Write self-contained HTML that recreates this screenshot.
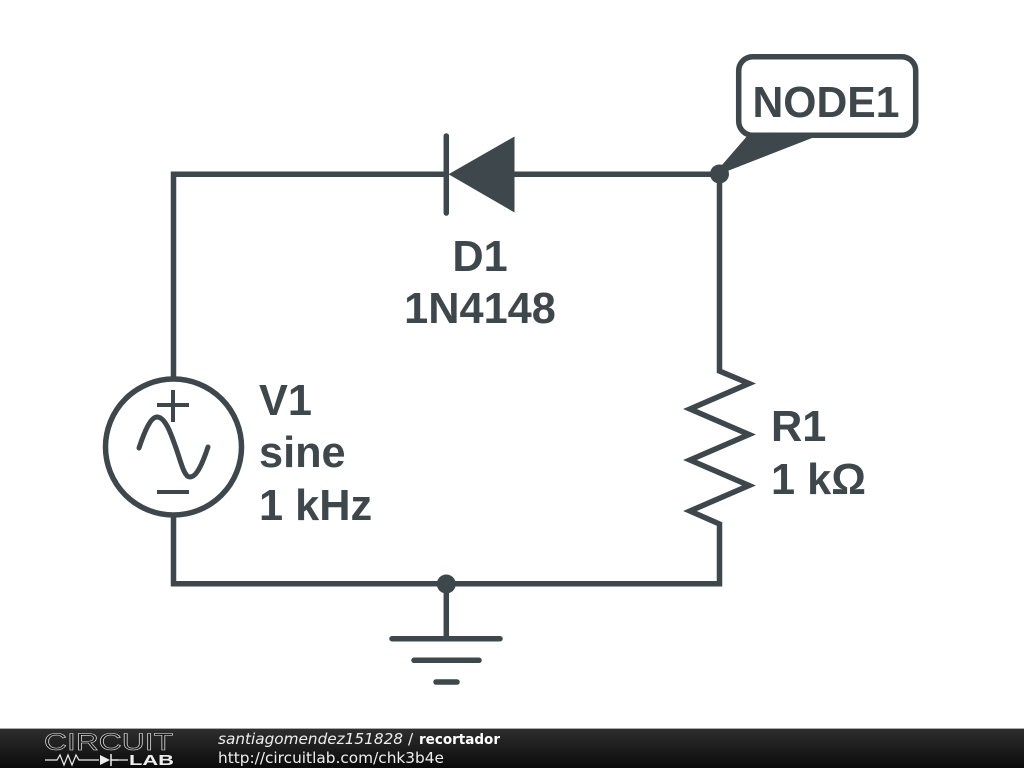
<!DOCTYPE html>
<html><head><meta charset="utf-8"><style>
html,body{margin:0;padding:0;background:#fff}
svg{display:block}
</style></head><body>
<svg width="1024" height="768" viewBox="0 0 1024 768" xmlns="http://www.w3.org/2000/svg">
<defs><linearGradient id="g" x1="0" y1="0" x2="0" y2="1"><stop offset="0" stop-color="#2e2e2e"/><stop offset="1" stop-color="#0a0a0a"/></linearGradient></defs>
<rect width="1024" height="768" fill="#fff"/>
<g fill="none" stroke="#3d474c" stroke-width="5.500">
<path d="M173.500 378V174.200H446M514 174.200H719.500V371L749 383.500L690 409L749 434.500L690 460L749 485.500L690 511L719.500 524V583.800H173.500V516" stroke-linejoin="miter" stroke-miterlimit="4"/>
<path d="M446.300 584V638"/>
<circle cx="173.500" cy="447" r="68" stroke-width="5.500"/>
<path d="M139 448C145 430 151 417 157 417C166 417 172 437 176 448C181 462 184 477 190 477C197 477 203 462 208 447" stroke-width="5" stroke-linecap="round"/>
<path d="M157 405H189M173 390V422M157 492H189" stroke-width="4"/>
<path d="M446.300 136V213M392 638.700H500M414 660.300H479M436 682H457" stroke-linecap="round"/>
<rect x="738.700" y="56.700" width="177" height="78.600" rx="14" stroke-width="5.500"/>
</g>
<g fill="#3d474c">
<polygon points="448.500,174.200 514.500,136.500 514.500,212.500"/>
<circle cx="719.500" cy="174" r="9.500"/><circle cx="446.300" cy="584" r="9.500"/>
<polygon points="748,135 812,138 725,172 722,165"/>
</g>
<g font-family="'Liberation Sans',sans-serif" font-weight="700" font-size="43.300" fill="#3d474c">
<text x="752.500" y="117" textLength="147" lengthAdjust="spacingAndGlyphs">NODE1</text>
<text x="480" y="271" text-anchor="middle">D1</text>
<text x="480" y="323" text-anchor="middle">1N4148</text>
<text x="259" y="415">V1</text><text x="259" y="467">sine</text><text x="259" y="520">1 kHz</text>
<text x="771" y="441">R1</text><text x="771" y="494">1 kΩ</text>
</g>
<rect y="729" width="1024" height="39" fill="url(#g)"/>
<rect y="728" width="1024" height="1" fill="#aaa"/>
<text x="44" y="750" font-family="'Liberation Sans',sans-serif" font-size="24" fill="#1a1a1a" stroke="#e8e8e8" stroke-width=".55" textLength="129" lengthAdjust="spacingAndGlyphs">CIRCUIT</text>
<path d="M45 760H57L60 755L64 765L68 755L72 765L76 755L79 760H99M118 760H128" fill="none" stroke="#eee" stroke-width="1.200"/>
<polygon points="100,755 100,765 110,760" fill="#eee"/><path d="M111 754V766M111 760H118" stroke="#eee" stroke-width="1.500"/>
<text x="129" y="765" font-family="'Liberation Sans',sans-serif" font-weight="700" font-size="15" fill="#eee" textLength="45" lengthAdjust="spacingAndGlyphs">LAB</text>
<g font-family="'DejaVu Sans',sans-serif" font-size="15.300" fill="#eee">
<text x="218" y="744" font-style="italic" textLength="185" lengthAdjust="spacingAndGlyphs">santiagomendez151828</text>
<text x="408" y="744">/</text>
<text x="419" y="744" font-weight="700" fill="#fff" textLength="81" lengthAdjust="spacingAndGlyphs" font-size="14.500">recortador</text>
<text x="218" y="763" textLength="226" lengthAdjust="spacingAndGlyphs">http://circuitlab.com/chk3b4e</text>
</g>
</svg>
</body></html>
